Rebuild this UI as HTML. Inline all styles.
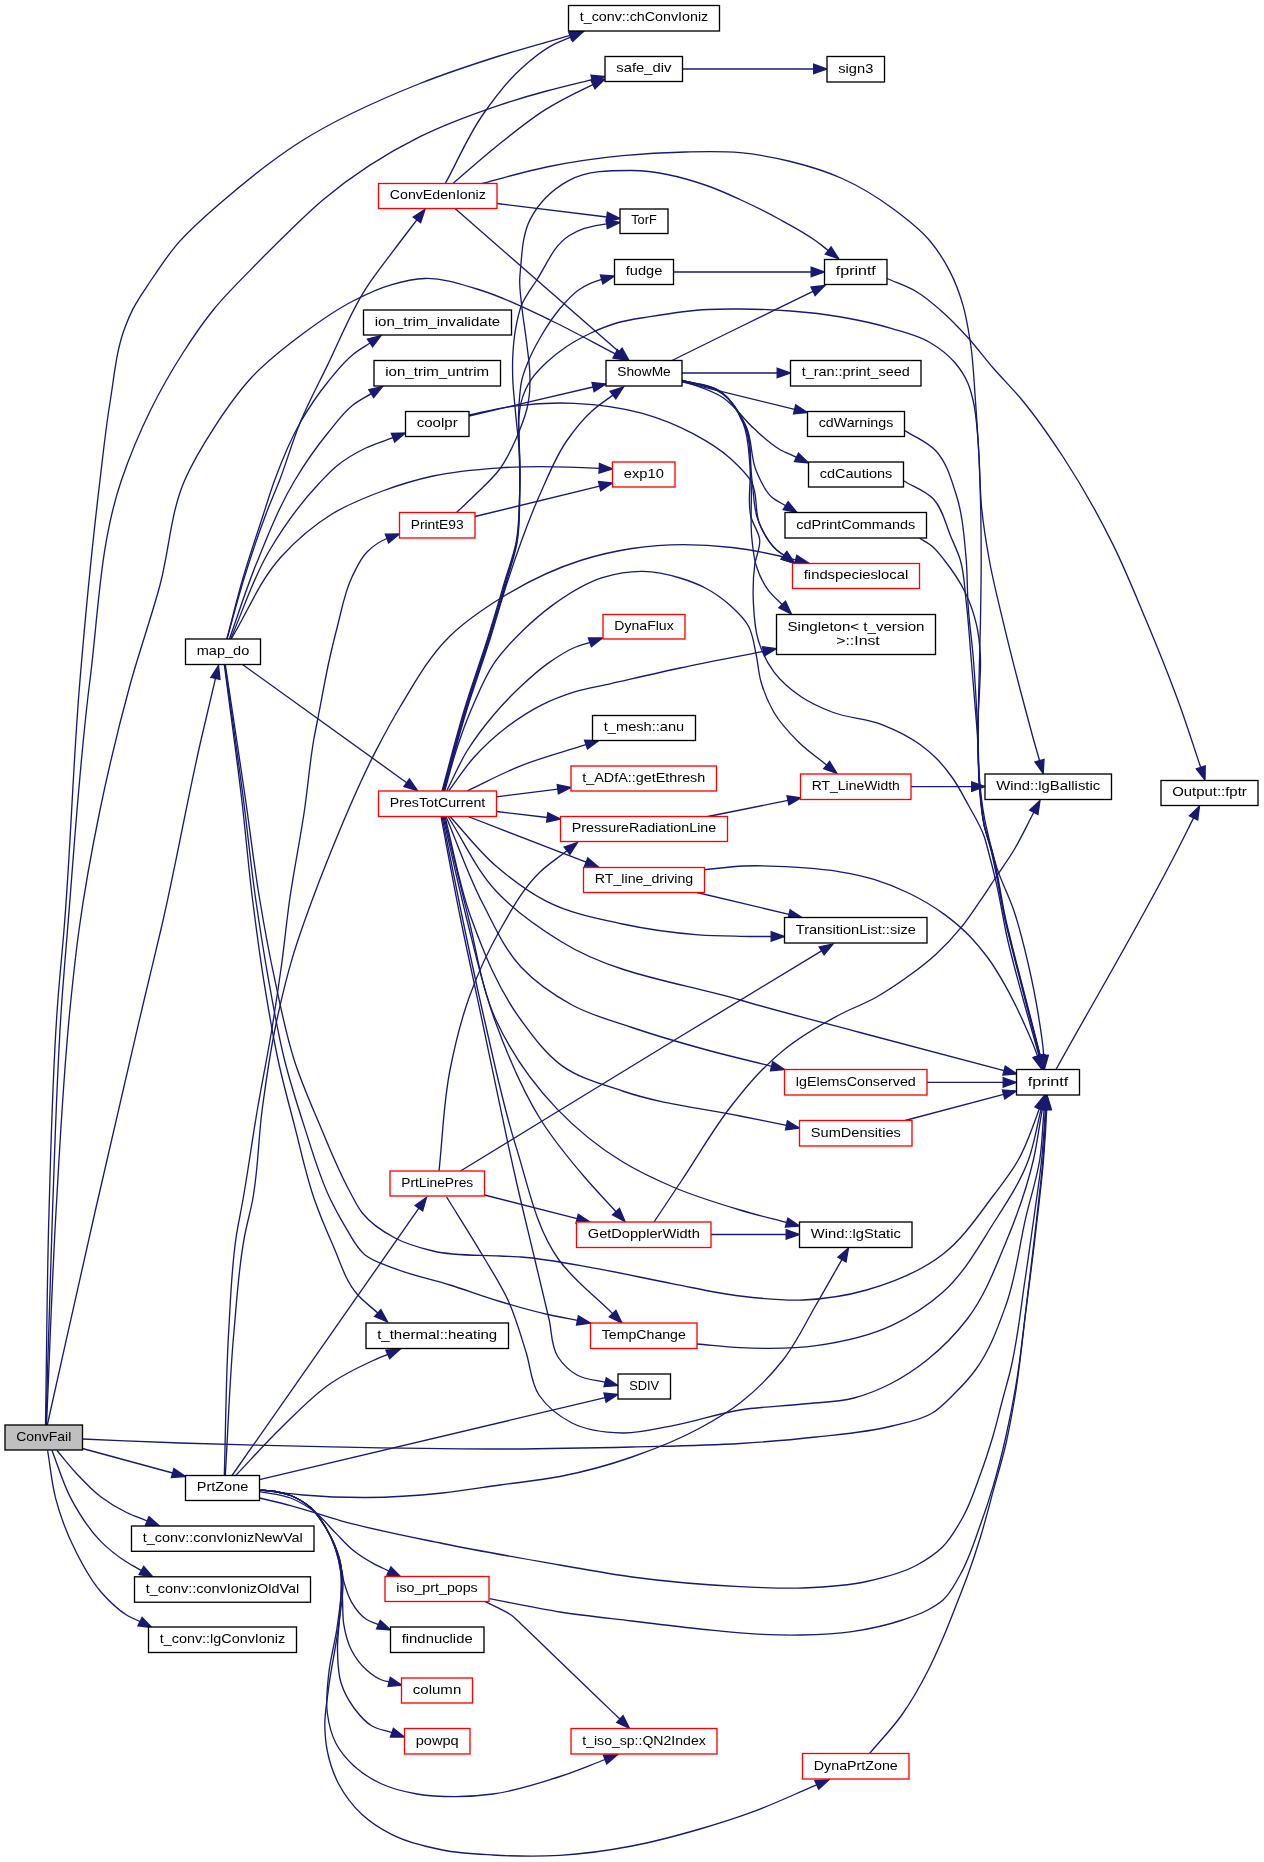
<!DOCTYPE html>
<html><head><meta charset="utf-8"><title>ConvFail call graph</title>
<style>html,body{margin:0;padding:0;background:#fff}svg{display:block;will-change:transform}text{font-family:"Liberation Sans",sans-serif;font-size:13.4px;fill:#000;text-anchor:middle}.e{fill:none;stroke:#191970;stroke-width:1.33}.a{fill:#191970;stroke:#191970;stroke-width:1.33}.n{stroke:#000;stroke-width:1.33}.r{stroke:#f00;stroke-width:1.33}</style></head>
<body><svg width="1264" height="1862" viewBox="0 0 1264 1862">
<rect width="1264" height="1862" fill="#fff"/>
<path class="e" d="M45.5,1425C46.7,1354 46.9,1283 49,1212C51.1,1141.3 52.5,1070.5 57.9,1000C59.7,976.6 62.1,953.3 64,930C70.8,846.8 73,763.2 80,680C85.6,613.2 92,546.5 100,480C103.1,454.1 105.8,428.2 110,402.5C114.2,377 116,350.7 125.3,326.6C127.6,320.6 130.1,314.6 133,308.9C137.9,299.1 144.5,290.1 150.6,281C158.7,268.9 166.7,256.7 176,245.6C190.2,228.7 207.3,214.5 224,200C248.1,179.1 273.2,159.2 300,142C337.5,118 378.7,100 420,83.5C444.9,73.6 470.4,65.2 496,57C520.5,49.2 545.5,42.6 570.2,35.4"/><polygon class="a" points="571.5,39.9 583,31.7 568.9,30.9"/>
<path class="e" d="M46,1425C48.2,1354 49.8,1283 52.5,1212C55.1,1141.3 56.9,1070.6 61.9,1000C63.6,976.7 65.6,953.3 67.5,930C74.4,846.6 79.4,763 90,680C98.5,613.1 99.7,543.9 121.5,480C129.7,456.1 139.4,432.7 150.6,410C160.4,390.1 171.5,370.7 183.5,352C193,337.2 202.9,322.6 214,309C225.7,294.6 239.1,281.7 252,268.4C264.5,255.5 277.1,242.8 290,230.4C300.8,220.1 311.4,209.6 322.8,200C352.4,175.1 385.4,153.9 420,136.7C444.4,124.5 470.2,115.1 496,106.3C512.7,100.6 529.6,95.6 546.6,91C561.7,86.9 576.9,83.5 592.1,79.7"/><polygon class="a" points="593.2,84.2 605,76.5 591,75.2"/>
<path class="e" d="M46.5,1425C49.7,1354 51.9,1283 56,1212C60.1,1141.3 63.5,1070.5 70.9,1000C73.3,976.6 75.8,953.3 79,930C84.5,889.8 91.8,849.8 100,810C108.7,768 118.7,726.3 130,685C139.2,651.4 151,618.6 160,585C169.3,550.3 170.4,513 184.8,480C192.8,461.7 203.2,444.5 214,427.8C225.5,410 237.6,392.5 252,377C267.1,360.8 284.8,347.2 302.5,334C318.6,322 335.1,310.2 353,301C365.2,294.7 377.8,288.6 391,284.8C402.1,281.6 413.5,278.9 425,278.5C443.7,277.8 462.1,284.6 480,290C504.3,297.3 527.1,309.1 550,320C572.1,330.5 593.5,342.6 615.2,353.9"/><polygon class="a" points="613,358 627,360 617.4,349.7"/>
<path class="e" d="M47.3,1425C63.2,1354 78.8,1282.9 95,1212C111.1,1141.3 127.4,1070.6 144.1,1000C150,975 156.2,950 162,925C176.2,863.6 186.9,801.4 201,740C205.7,719.5 210.6,699 215.5,678.4"/><polygon class="a" points="220,679.5 218.5,665.5 210.9,677.4"/>
<path class="e" d="M82.5,1439C115,1440.3 147.5,1441.9 180,1443C226.7,1444.6 273.3,1445.7 320,1446.7C380,1447.9 440,1449.2 500,1449C544,1448.9 588,1448.1 632,1447C668,1446.1 704.1,1445.8 740,1443.5C765.4,1441.9 790.7,1439.9 816,1437C841.4,1434.1 867.2,1432.4 892,1426C905.7,1422.5 920.4,1420.4 932.4,1413C941,1407.7 947.9,1400.1 955,1393C962.3,1385.8 969.3,1378.2 975.4,1370C989.7,1350.8 997.9,1327.5 1006,1305C1016.2,1276.6 1019.1,1246 1026,1216.6C1030.5,1197.7 1036.6,1179.2 1039.7,1160C1042.4,1143.2 1042.4,1126.1 1044.2,1109.2"/><polygon class="a" points="1048.9,1109.7 1045.7,1096 1039.6,1108.7"/>
<path class="e" d="M82.5,1448.5 L172.7,1473"/><polygon class="a" points="171.4,1477.5 185.5,1476.5 173.9,1468.5"/>
<path class="e" d="M57,1450.5C63.3,1458 69.3,1465.8 76,1473C83.9,1481.5 91.8,1490 101,1497C109,1503 117.6,1508.1 126.6,1512.5C133.3,1515.8 140.3,1518.1 147.2,1521"/><polygon class="a" points="145.4,1525.3 159.5,1526 149,1516.6"/>
<path class="e" d="M52,1450.5C58.3,1466.5 62.9,1483.4 71,1498.6C79.3,1514 88.6,1529.3 101,1541.6C108.7,1549.3 117.4,1556.1 126.6,1562C131.4,1565.1 136.5,1567.6 141.4,1570.4"/><polygon class="a" points="139.1,1574.5 153,1577 143.7,1566.4"/>
<path class="e" d="M47.6,1450.5C50.3,1466.5 51.6,1482.9 55.7,1498.6C60.5,1517 67.4,1534.9 76,1551.8C83.1,1565.9 90.6,1580.1 101,1592C108.6,1600.6 116.8,1609.1 126.6,1615C130.9,1617.6 135.6,1619.4 140.1,1621.6"/><polygon class="a" points="138,1625.8 152,1627.5 142.1,1617.4"/>
<path class="e" d="M227,639C232.8,618.3 238.1,597.5 244.5,577C251.1,555.8 258.1,534.7 266,514C270.3,502.6 275.3,491.4 279.7,480C286.9,461.2 292.3,441.6 300,423C308.2,403.1 318.4,384 327.8,364.6C340.2,339.1 350.5,312.4 365.8,288.6C374.3,275.4 384.1,263.2 393.5,250.6C401.2,240.3 409.1,230.1 416.9,219.9"/><polygon class="a" points="420.6,222.7 425,209.3 413.2,217"/>
<path class="e" d="M226.8,639C232.3,618.3 237.3,597.5 243.3,577C249.5,555.8 256.7,535 263.5,514C267.2,502.7 270.6,491.2 274.7,480C281.9,460.5 289.7,441.1 300,423C308.2,408.6 317.4,394.9 327.8,382C335.6,372.3 343.3,362.2 353,354.4C358.3,350.1 364.3,346.8 370,343"/><polygon class="a" points="372.6,346.9 381,335.6 367.4,339.1"/>
<path class="e" d="M229.4,639C238.3,614.2 246.1,589 256,564.6C267.6,535.8 279,506.6 295,480C304.9,463.6 315.7,447.8 327.8,433C335.7,423.3 343.1,412.7 353,405C358.7,400.6 365.2,397.4 371.2,393.6"/><polygon class="a" points="373.7,397.5 382.5,386.5 368.8,389.6"/>
<path class="e" d="M230.6,639C243.3,610 252.6,579.3 268.6,552C282.9,527.5 299.6,504.1 319,483.5C324.7,477.5 330.3,471.2 336.7,466C345.5,458.8 355.5,453 365.8,448C374.5,443.8 384,441.1 393.1,437.7"/><polygon class="a" points="394.7,442.1 405.5,433 391.4,433.3"/>
<path class="e" d="M231.2,639C247.8,611.7 259.5,580.7 281,557C296,540.5 313.1,525.6 332,514C347.8,504.3 365.2,497.5 382.5,491C399,484.9 415.8,479.8 433,476C455,471.2 477.6,469.4 500,467.8C533,465.5 566.2,466.6 599.2,468.3"/><polygon class="a" points="599,473 612.5,469 599.5,463.6"/>
<path class="e" d="M242.5,664.5 L406.7,782.7"/><polygon class="a" points="404,786.5 417.5,790.5 409.4,778.9"/>
<path class="e" d="M224.3,664.5C230.1,709.7 236.5,754.8 241.8,800C245.7,833.3 248.4,866.7 252.6,900C256,926.9 259.5,953.8 263.8,980.6C268.1,1007.5 272.5,1034.4 278.3,1061C283,1082.7 288.9,1104.1 294.5,1125.6C301,1150.5 306.1,1175.8 314.6,1200C319.7,1214.6 325.7,1228.9 332,1243C339.7,1260.3 344.7,1279.6 357,1294C363.1,1301.1 370.9,1306.7 377.8,1313"/><polygon class="a" points="374.6,1316.5 387.6,1322 380.9,1309.6"/>
<path class="e" d="M224.8,664.5C231,709.7 237.7,754.8 243.5,800C247.8,833.3 251,866.8 255.8,900C259.7,926.9 263.9,953.8 268.7,980.6C273.5,1007.5 278.1,1034.5 284.8,1061C290.3,1082.8 297.1,1104.2 304,1125.6C312.2,1150.7 319.1,1176.3 330.7,1200C335,1208.7 339.6,1217.3 344.6,1225.6C350.7,1235.7 355.7,1247.2 364.8,1254.7C373.4,1261.7 384.7,1264.5 395,1268.6C412.8,1275.7 431.8,1279.3 450,1285C466.7,1290.3 483.2,1296.5 500,1301.5C516.5,1306.5 533.1,1311.2 550,1315C559.1,1317 568.3,1318.6 577.5,1320.4"/><polygon class="a" points="576.5,1325 590.5,1323 578.4,1315.8"/>
<path class="e" d="M225.3,664.5C232.1,709.7 239,754.8 245.6,800C250.4,833.3 254.2,866.8 259.8,900C264.3,927 269.2,953.9 275,980.6C280.8,1007.6 286,1034.8 294.5,1061C301.6,1083 311,1104.3 320,1125.6C329.4,1148 338.3,1170.7 350,1192C353.9,1199.1 357.2,1206.7 362.3,1213C370.9,1223.7 382.9,1231.6 395,1238C406.8,1244.3 420,1247.9 433,1251C454.8,1256.2 477.6,1254.8 500,1256C507,1256.4 514,1256.5 521,1257C546.6,1258.8 571.8,1264.2 597,1268.6C622.4,1273.1 647.6,1279 673,1283.8C695.3,1288 717.5,1293.3 740,1296C760.9,1298.5 782,1301 803,1300C824.4,1299 846,1295.9 866.6,1290C893.5,1282.3 920.4,1271.6 942.5,1254.5C962.9,1238.8 977.5,1216.5 993,1196C1001.8,1184.3 1011,1172.8 1018.2,1160C1027.3,1143.8 1033,1125.9 1039.4,1108.5"/><polygon class="a" points="1043.8,1110.1 1044,1096 1035,1106.9"/>
<path class="e" d="M224.3,1475.5C225.8,1427.3 225.8,1379.1 228.7,1331C230.6,1299.3 231.5,1267.4 236.3,1236C238.2,1223.9 240.8,1212 242.9,1200C248.2,1169.9 252.3,1139.6 257.4,1109.5C262,1082.6 267.5,1055.9 271.9,1029C275.4,1007.5 278.6,986 281.6,964.5C284.5,943 286.6,921.5 289.6,900C293.9,869.9 300.1,840.1 304.5,810C307.9,786.7 309.7,763.2 313.7,740C315.5,730 317.6,720 319.5,710C322.7,693.3 325.6,676.6 329.3,660C331.7,649.3 334.2,638.6 337,628C341.5,610.9 344.3,593 352,577C356.2,568.3 360.2,558.9 367,552C372.7,546.3 379.5,541.3 387,538.5"/><polygon class="a" points="388.6,542.9 399.5,534 385.4,534.2"/>
<path class="e" d="M225.3,1475.5C228.2,1427.3 229.6,1379.1 234,1331C236.9,1299.3 238.6,1267.3 244.6,1236C246.9,1223.9 250.3,1212.1 252.6,1200C258.2,1170.2 258.2,1139.6 262.2,1109.5C265.8,1082.6 269.6,1055.6 275,1029C280,1004.6 285.7,980.3 292.8,956.4C298.5,937.4 305.3,918.7 312.2,900C316.8,887.4 321.6,874.9 326.6,862.5C342,823.9 357.8,785.4 377,748.6C384.3,734.6 391.8,720.6 400,707C415,682.2 429.3,656.2 450,636C465.2,621.2 483,609.2 501,598C526.3,582.2 553.5,568.9 582,560C598.3,554.9 615.1,551.1 632,548.5C664.9,543.4 698.9,543.8 732,547.5C753.5,549.9 774.7,554.6 795.7,559.8"/><polygon class="a" points="794.6,564.3 808.6,563 796.8,555.3"/>
<path class="e" d="M232,1475.5 L418.9,1208.2"/><polygon class="a" points="422.7,1210.9 426.5,1197.3 415.1,1205.5"/>
<path class="e" d="M235.7,1475.5C250.8,1459.7 265.3,1443.2 281,1428C297.4,1412.1 313,1395.1 332,1382.5C344,1374.6 356.9,1368 370,1362C375.8,1359.3 381.8,1356.9 387.8,1354.4"/><polygon class="a" points="389.6,1358.7 400,1349.2 385.9,1350.1"/>
<path class="e" d="M259.5,1479.7 L605.1,1397.6"/><polygon class="a" points="606.1,1402.1 618,1394.5 604,1393"/>
<path class="e" d="M259.5,1490C274,1491.7 288.5,1493.8 303,1495C324.1,1496.8 345.4,1497.6 366.6,1497.5C391.9,1497.4 417.3,1495.6 442.5,1493C461.7,1491 480.8,1487.7 500,1485C520,1482.2 540.2,1480.4 560,1476.5C584.4,1471.7 608.5,1465.2 632,1457C655.3,1448.9 678.4,1439.8 700,1428C713.8,1420.5 727.6,1412.6 740,1403C756,1390.6 770.5,1375.9 783,1360C796.2,1343.2 805.2,1323.5 816,1305C824.8,1289.9 833.3,1274.7 841.9,1259.6"/><polygon class="a" points="846,1261.9 848.5,1248 837.9,1257.2"/>
<path class="e" d="M259.5,1498C269.9,1500.5 280.3,1502.9 290.6,1505.6C307.6,1510.1 324.1,1516.1 341,1520.8C374.4,1530 408.5,1536.5 442.5,1543.5C481.5,1551.5 520.8,1558.2 560,1565C584,1569.1 607.9,1573.7 632,1577C667.8,1581.8 703.9,1584.9 740,1586.6C761,1587.6 782,1588.8 803,1588C824.3,1587.2 845.8,1586.1 866.6,1581.5C883.9,1577.7 901.5,1573.5 917,1565C926.1,1560 935.1,1554.3 942.5,1547C951.1,1538.5 957.1,1527.6 963,1517C970.5,1503.5 975.2,1488.5 980.5,1474C985.1,1461.5 989.2,1448.8 993,1436C996.7,1423.4 999.6,1410.7 1003,1398C1005.5,1388.7 1008.2,1379.4 1010.5,1370C1017.6,1340.5 1020.5,1310 1025,1280C1028.5,1256.7 1031.8,1233.4 1035,1210C1037.3,1193.3 1039.9,1176.7 1041.6,1160C1043.3,1143.1 1044.3,1126.2 1045.4,1109.3"/><polygon class="a" points="1050.1,1109.6 1046.3,1096 1040.8,1109"/>
<path class="e" d="M259.5,1491.6C269.9,1493.7 280.7,1494.1 290.6,1498C299.8,1501.6 308.3,1506.9 316,1513C323.5,1518.9 329.3,1526.7 336,1533.4C341.9,1539.3 347.4,1545.8 354,1551C360.2,1555.9 367.1,1560 374,1563.8C378.8,1566.4 383.9,1568.6 388.8,1571"/><polygon class="a" points="386.8,1575.2 400.8,1576.8 390.9,1566.8"/>
<path class="e" d="M259.5,1490C264.7,1490.5 269.9,1490.6 275,1491.5C280.3,1492.4 285.6,1493.6 290.6,1495.5C298,1498.4 305.1,1502.7 311,1508C317.2,1513.6 321.7,1520.9 326,1528C331.3,1536.8 335.7,1546.2 338.7,1556C341.3,1564.3 341.4,1573.2 343.8,1581.5C345.8,1588.4 347.8,1595.6 351.4,1601.8C355.3,1608.5 360.1,1615.3 366.6,1619.5C370.2,1621.8 374.5,1622.9 378.4,1624.7"/><polygon class="a" points="376.5,1628.9 390.6,1630 380.3,1620.4"/>
<path class="e" d="M259.5,1490C264.7,1490.5 269.9,1490.6 275,1491.5C280.3,1492.4 285.6,1493.6 290.6,1495.5C298,1498.4 305.1,1502.7 311,1508C317.2,1513.6 321.7,1520.9 326,1528C332.2,1538.2 337.2,1549.4 340,1561C343,1573.3 341.8,1586.3 342.5,1599C343,1607.5 342.4,1616.2 343.8,1624.6C345.3,1633.3 347.4,1642.1 351.4,1650C355.2,1657.4 360.3,1664.5 366.6,1670C371.1,1674 376.1,1677.9 381.8,1680C384.2,1680.9 386.7,1681.3 389.1,1681.9"/><polygon class="a" points="388,1686.4 402,1685.3 390.3,1677.4"/>
<path class="e" d="M259.5,1490C264.7,1490.5 269.9,1490.6 275,1491.5C280.3,1492.4 285.6,1493.6 290.6,1495.5C298,1498.4 305.1,1502.7 311,1508C317.2,1513.6 321.8,1520.8 326,1528C332.9,1539.6 337.5,1552.7 340,1566C342.9,1581.1 340.6,1596.7 340,1612C339.5,1624.7 337.2,1637.3 337.5,1650C337.8,1661 337.7,1672.3 341,1682.8C343.8,1691.8 348.4,1700.4 354,1708C359,1714.7 364.4,1721.5 371.6,1725.8C377.7,1729.5 385.1,1730.4 391.9,1732.7"/><polygon class="a" points="390.4,1737.1 404.5,1737 393.4,1728.3"/>
<path class="e" d="M259.5,1490C264.7,1490.5 269.9,1490.6 275,1491.5C280.3,1492.4 285.6,1493.6 290.6,1495.5C298,1498.4 305.1,1502.7 311,1508C317.2,1513.6 321.8,1520.8 326,1528C334.2,1541.9 338.9,1558 341,1574C343.2,1590.8 339.6,1607.8 337.5,1624.6C335.4,1641.5 330.2,1658 328.6,1675C327.4,1687.6 325.6,1700.4 327.3,1713C328.7,1723.5 331.1,1734.2 336,1743.5C340.5,1752 347,1759.5 354,1766C362.1,1773.5 371.8,1779.4 381.8,1784C392.9,1789.1 405,1791.9 417,1794C429.5,1796.2 442.3,1796.7 455,1796.7C467.7,1796.7 480.4,1795.7 493,1794C515.9,1790.9 538.1,1783.7 560,1776.5C575.2,1771.5 590,1765.2 605.1,1759.5"/><polygon class="a" points="606.7,1763.9 617.5,1754.8 603.4,1755.1"/>
<path class="e" d="M259.5,1490C264.7,1490.5 269.9,1490.6 275,1491.5C280.3,1492.4 285.6,1493.6 290.6,1495.5C298,1498.4 305.1,1502.7 311,1508C317.2,1513.6 321.7,1520.9 326,1528C334.4,1542 340.2,1557.9 342.5,1574C344.8,1590.8 340.6,1607.8 338.7,1624.6C336.3,1645.9 331.2,1666.8 328.6,1688C327.1,1700.6 324.6,1713.1 324.8,1725.8C325,1734.2 325.6,1742.7 327.3,1751C329.6,1762.4 333.3,1773.7 338.7,1784C344.6,1795.1 352.4,1805.4 361.5,1814C370.4,1822.4 381.1,1829.1 392,1834.7C407.7,1842.7 425.2,1846.6 442.5,1850C459.1,1853.3 476.1,1854 493,1855C515.3,1856.3 537.7,1856.7 560,1855.4C584.2,1854 608.2,1850.5 632,1846C655,1841.6 677.6,1835.5 700,1829C717,1824.1 733.9,1818.8 750.6,1812.7C773.1,1804.5 794.7,1794.1 816.7,1784.9"/><polygon class="a" points="818.6,1789.2 829,1779.7 814.9,1780.6"/>
<path class="e" d="M485.2,1601.6C490.1,1604 495.2,1606.2 500,1608.8C504,1610.9 508.2,1612.8 511.8,1615.5C515.2,1618 517.9,1621.2 521,1624C534.2,1636.3 547,1649 560,1661.5C573.3,1674.3 586.7,1687.2 600,1700C606.6,1706.4 613.3,1712.7 619.9,1719.1"/><polygon class="a" points="616.7,1722.5 629.5,1728.3 623.1,1715.7"/>
<path class="e" d="M489.4,1598.7C512.9,1603.1 536.3,1608.3 560,1612C583.9,1615.7 608,1618.1 632,1621C654.7,1623.7 677.3,1626.7 700,1629C716.8,1630.7 733.7,1632.7 750.6,1633.7C767.4,1634.7 784.2,1635.3 801,1635C818,1634.7 835.1,1634.1 852,1631.6C869.1,1629.1 886.1,1625.5 902.5,1620C911.1,1617.1 919.8,1614.3 927.8,1610C933.1,1607.1 938.5,1604 943,1600C950.5,1593.3 955,1583.7 960,1575C969.1,1559.3 974.3,1541.6 980.5,1524.5C985,1512 989.2,1499.3 993,1486.6C998,1469.9 1002.2,1453 1006,1436C1009.8,1419.1 1013.1,1402.1 1016,1385C1020.8,1356.8 1023.5,1328.4 1027,1300C1030.3,1273.3 1033.5,1246.7 1036.5,1220C1038.7,1200 1041.3,1180 1042.9,1160C1044.3,1143.1 1045,1126.2 1046,1109.3"/><polygon class="a" points="1050.7,1109.6 1046.8,1096 1041.4,1109"/>
<path class="e" d="M439,1171C442.7,1137.3 443.4,1103.2 450,1070C455,1044.6 461.1,1019.3 470,995C478.2,972.6 488.2,950.7 500,930C511.6,909.6 523.1,888.3 540,872C548.3,864.1 558,857.8 567,850.7"/><polygon class="a" points="569.9,854.4 577.5,842.5 564.2,847.1"/>
<path class="e" d="M460.5,1171C533.7,1126.3 606.7,1081.4 680,1036.8C727.2,1008.1 774.4,979.5 821.6,950.9"/><polygon class="a" points="824.1,954.9 833,944 819.2,946.9"/>
<path class="e" d="M484.5,1195 L577.1,1218.7"/><polygon class="a" points="576,1223.2 590,1222 578.3,1214.2"/>
<path class="e" d="M446.6,1197C458.7,1216.7 471.3,1236.1 483,1256C491.8,1271 501.5,1285.6 508.6,1301.5C515.9,1317.7 520.6,1335 526,1352C530.6,1366.3 530.7,1382.5 539,1395C547,1407 559.2,1416.4 572,1423C587.3,1430.8 605.3,1432.6 622.5,1433C639.5,1433.4 656.3,1428.7 673,1425.6C695.6,1421.5 717.4,1413.6 740,1410C760.8,1406.7 782,1406.3 803,1404C820,1402.2 837.5,1402.4 854,1398C867.2,1394.5 879.9,1389.3 892,1383C904.4,1376.6 916.1,1368.7 927,1360C942.3,1347.8 956.2,1333.6 968,1318C985.1,1295.4 995.1,1268.2 1006,1242C1017.1,1215.4 1026.8,1188.1 1033.4,1160C1037.3,1143.2 1039.1,1126 1042.4,1109"/><polygon class="a" points="1047,1110 1045,1096 1037.8,1108.1"/>
<path class="e" d="M711,1234.5 L786.2,1234.5"/><polygon class="a" points="786.2,1239.2 799.5,1234.5 786.2,1229.8"/>
<path class="e" d="M654,1222C663.3,1208 672.7,1194 682,1180C698.7,1155 713.4,1128.6 732,1105C740.9,1093.7 749.9,1082.3 760,1072C767.5,1064.3 775.4,1056.8 783.8,1050C800.9,1036 820.4,1024.9 840,1014.5C851.3,1008.5 863.6,1004.2 874.8,998C886.9,991.3 898.4,983.5 909.6,975.3C918.6,968.7 927.5,961.9 935.7,954.4C945.1,945.8 953.8,936.5 961.8,926.6C968.1,918.8 973.6,910.4 979.3,902.2C985.3,893.6 990.9,884.7 996.7,876C1002.5,867.3 1008.6,858.9 1014,850C1021.3,837.8 1027.2,824.8 1033.8,812.3"/><polygon class="a" points="1037.9,814.4 1040,800.5 1029.7,810.1"/>
<path class="e" d="M697,1344C711.3,1345.2 725.6,1347 740,1347.7C765.3,1348.8 790.9,1349.3 816,1345.7C842,1342 868.3,1336.6 892,1325.4C910.2,1316.8 927.5,1305.8 942.5,1292.5C963.7,1273.7 977.8,1248 993,1224C1006.1,1203.4 1020,1182.9 1028.4,1160C1034.5,1143.5 1036.8,1125.9 1041.2,1108.9"/><polygon class="a" points="1045.7,1110 1044.5,1096 1036.7,1107.7"/>
<path class="e" d="M869.6,1753.5C880.6,1740.3 892.7,1728 902.5,1714C912.1,1700.4 920.2,1685.8 927.8,1671C933.3,1660.2 938.2,1649.1 943,1638C948.4,1625.5 953.2,1612.7 958.2,1600C961.4,1591.7 964.7,1583.4 967.8,1575C972.4,1562.4 976.6,1549.8 980.5,1537C985.1,1522 988.9,1506.7 993,1491.6C997.4,1475.6 1002.3,1459.7 1006,1443.5C1009.4,1428.4 1012.1,1413.2 1014.7,1398C1019.6,1368.8 1022.3,1339.3 1026,1310C1029.6,1281.7 1033.3,1253.4 1036.5,1225C1039,1203.3 1041.7,1181.7 1043.5,1160C1044.9,1143.1 1046,1126.2 1046.7,1109.3"/><polygon class="a" points="1051.4,1109.5 1047.3,1096 1042,1109.1"/>
<path class="e" d="M445.3,183.5C458,160.3 468.1,135.6 483.3,114C494.7,97.8 506.6,81.7 521.3,68.4C530.7,59.9 540.5,51.6 551.6,45.6C557.8,42.2 564.4,39.9 570.8,37.1"/><polygon class="a" points="572.7,41.4 583,31.7 568.9,32.8"/>
<path class="e" d="M453,183.5C467.3,171.3 481.3,158.6 496,146.8C512.4,133.6 528.7,120 546.6,108.9C558.8,101.4 571.7,94.8 584.6,88.6C587.4,87.3 590.2,86 593,84.7"/><polygon class="a" points="595,88.9 605,79 591,80.4"/>
<path class="e" d="M497,203.5 L606.8,217"/><polygon class="a" points="606.2,221.6 620,218.6 607.4,212.3"/>
<path class="e" d="M455,208.5 L619,351.8"/><polygon class="a" points="615.9,355.3 629,360.5 622.1,348.2"/>
<path class="e" d="M482,183.5C503.5,178 524.8,171.5 546.6,167C571.7,161.9 597,158.2 622.5,155.7C643.5,153.6 664.7,152.4 685.8,152C703.9,151.6 722,151 740,152.7C757,154.3 774,157.4 790.6,161.5C807.8,165.8 824.8,170.8 841,178C859,186 876.1,196.4 892,208C905.5,217.9 919.3,228.1 930,241C937.8,250.4 944.5,260.8 950,271.6C955.4,282.1 959.5,293.3 962.8,304.6C966.5,317 968.4,329.8 970.4,342.5C973.3,361.5 974,380.8 975.4,400C976.8,418.7 977.9,437.3 979,456C980,472.9 979.9,489.8 981.5,506.6C983.2,524.5 986.1,542.3 989.3,560C993.2,581.7 998.7,603 1003.8,624.4C1008.9,646 1014.4,667.5 1020,689C1024.2,705 1028.4,721 1032.8,737C1035,744.9 1037.3,752.8 1039.6,760.7"/><polygon class="a" points="1035.1,762 1043.2,773.5 1044,759.4"/>
<path class="e" d="M443.2,791C450.7,764.2 457.7,737.3 465.8,710.7C473.4,685.6 482.4,661 490.2,636C496,617.4 501.6,598.7 506.9,580C510.4,567.5 514.9,555.3 517.1,542.5C520,525.9 519.4,508.9 519.7,492C520.1,473.7 519.1,455.3 519,437C519,430.7 518.5,424.3 519,418C519.3,413.2 519.7,408.4 520.8,403.7C521.9,398.8 523.5,394 525.6,389.5C527.3,385.7 529.5,382.1 531.8,378.7C536,372.5 541.5,367.1 547,362C552.9,356.5 559.3,351.5 566,347C573.9,341.6 582.4,337.1 591,333C599.3,329.1 607.8,325.6 616.6,323C627.5,319.8 638.8,318.5 650,316.7C669.2,313.5 688.5,310.5 708,309.5C718.7,308.9 729.3,308.9 740,309C756.9,309.1 773.8,309.7 790.6,311C807.5,312.3 824.3,314.1 841,317C858.2,320 875.3,323.5 892,328.6C904.9,332.5 918.4,335.6 930,342.5C939.2,348 948.1,354.6 955,362.8C960.2,368.9 964.6,375.7 967.8,383C970.2,388.4 971.6,394.2 973,400C976.2,413 976.9,426.6 978,440C978.8,450 979.1,460 979.5,470C980.8,500 981.2,530 981.2,560C981.2,581.5 980.8,602.9 980.4,624.4C980,645.9 979.2,667.5 978.8,689C978.6,699.7 978.3,710.3 978.3,721C978.2,742.5 977.9,764.1 979.6,785.5C980.7,799 981.5,812.6 984.4,825.8C986.2,834 989.2,841.9 991.4,850C997.5,872.9 1000.2,896.5 1005.4,919.6C1010.7,942.9 1016.9,965.9 1022.8,989C1028.5,1011.3 1034.3,1033.6 1040.1,1055.9"/><polygon class="a" points="1035.6,1057.1 1043.5,1068.8 1044.7,1054.8"/>
<path class="e" d="M442,791C449.3,764.2 456,737.3 464,710.7C471.5,685.6 480.6,661 488.4,636C494.2,617.4 499.6,598.7 505.1,580C508.8,567.5 513.6,555.3 516.1,542.5C519.3,525.9 519.2,508.9 519.7,492C519.9,484.7 520,477.3 519.9,470C519.8,462.2 519.6,454.3 519,446.5C518.5,440.1 517.6,433.8 517,427.5C516.2,419.6 515.4,411.6 514.7,403.7C514,395.8 513.1,387.9 512.8,380C512.5,372 512.4,364 512.8,356C513.2,347.5 513.9,339 515.3,330.6C516.8,321.9 518.3,313.1 521.6,305C525.3,296 531.5,288.2 536.8,280C546.6,264.8 553.4,245.9 568.6,236C579.8,228.7 593.5,225.3 606.8,223.9"/><polygon class="a" points="607.3,228.6 620,222.5 606.3,219.3"/>
<path class="e" d="M442.6,791C450,764.2 456.9,737.3 464.9,710.7C472.5,685.6 481.5,661 489.3,636C495.1,617.4 500.6,598.7 506,580C509.6,567.5 514.2,555.3 516.6,542.5C519.7,525.9 519.2,508.9 519.7,492C519.9,484.7 520,477.3 520,470C520,459 519.3,448 519,437C518.8,430.7 518.4,424.3 518.5,418C518.6,411.7 518.9,405.3 519.4,399C520,392.6 520.4,386.2 521.8,380C523.2,373.8 525.6,367.9 528,362C531.5,353.4 535.9,345.1 540.6,337C546.3,327.2 552.3,317.6 559.6,309C565.4,302.2 571.2,295.1 578.6,290C585.6,285.2 593.5,281.6 601.7,279.4"/><polygon class="a" points="602.9,284 614.5,276 600.4,274.9"/>
<path class="e" d="M443.8,791C451.4,764.2 458.4,737.3 466.5,710.7C474.2,685.6 483.2,661 491,636C496.8,617.4 501.9,598.5 508,580C517.8,550.3 528.1,520.5 541,492C548.8,474.7 555.8,456.6 566.6,441C574.1,430.2 582.3,419.8 592,411C598.5,405.1 605.9,400.4 612.9,395.1"/><polygon class="a" points="615.8,398.8 623.5,387 610.1,391.3"/>
<path class="e" d="M444.7,791C448.5,777.7 451.7,764.2 456,751C461.1,735.1 466.9,719.3 473.6,704C479.7,690.2 485.4,676.1 493.8,663.6C502.1,651.2 512.7,640.4 523.4,630C532.4,621.3 541.9,613 552,605.6C567.6,594.3 584.1,583.4 602.5,577.7C615.6,573.7 629.3,571.1 643,571.4C655.5,571.6 668,574.4 680,578C688.7,580.6 697.3,583.8 705.3,588C714.4,592.8 723,598.9 730.6,605.8C737.2,611.8 744.1,618.1 748.4,626C753.1,634.5 753.9,644.6 756,654C758.1,663.2 758.4,672.8 761,681.8C764,692.3 768.2,702.6 773.7,712C780.4,723.4 789.6,733.2 799,742.5C807.5,750.8 817.5,757.6 826.7,765.1"/><polygon class="a" points="823.7,768.7 837,773.5 829.6,761.5"/>
<path class="e" d="M446.7,791C453.5,777.7 459.2,763.7 467,751C474.9,738.2 484.1,726.2 493.8,714.7C502.2,704.8 511.2,695.4 520.7,686.5C529.3,678.4 538,670.4 547.6,663.6C556.1,657.6 564.9,651.6 574.5,647.5C579.5,645.4 584.8,644 589.9,642.3"/><polygon class="a" points="591.4,646.7 602.5,638 588.4,637.9"/>
<path class="e" d="M448.7,791C457,779.9 464.4,768.1 473.6,757.8C483.8,746.4 495.1,736 507.2,726.8C517.8,718.7 529,711.3 540.9,705.3C551.7,699.9 563,695.5 574.5,691.9C586.1,688.3 598.2,686.5 610,683.8C633.3,678.5 656.6,673 680,668C707.7,662.1 735.6,656.9 763.5,651.3"/><polygon class="a" points="764.4,655.9 776.5,648.7 762.5,646.7"/>
<path class="e" d="M467,791C484.9,782.6 502.3,773.1 520.7,765.8C542,757.3 564.3,751.7 586,744.6"/><polygon class="a" points="587.5,749 598.7,740.5 584.6,740.2"/>
<path class="e" d="M496.5,796.8 L557.8,789.1"/><polygon class="a" points="558.4,793.8 571,787.5 557.2,784.5"/>
<path class="e" d="M496.5,811.5 L547.3,817.5"/><polygon class="a" points="546.7,822.1 560.5,819 547.8,812.8"/>
<path class="e" d="M468,816.5 L586.1,862.2"/><polygon class="a" points="584.4,866.6 598.5,867 587.8,857.8"/>
<path class="e" d="M450,816.5C465.3,833 478.9,851.3 496,866C511.6,879.4 528.2,892.1 546.6,901.4C570.1,913.4 596.7,918.4 622.5,924C647.5,929.4 673,932.9 698.5,934.8C712.3,935.8 726.2,936 740,936.3C750.4,936.5 760.8,936.5 771.2,936.5"/><polygon class="a" points="771.2,941.2 784.5,936.5 771.2,931.8"/>
<path class="e" d="M448,816.5C464,841.3 475.9,869.3 496,891C514.9,911.4 538.2,927.4 561.8,942C614.9,974.9 680,982.5 740,1000C779.8,1011.6 820,1021.8 860,1032.5C908,1045.4 956.1,1057.9 1004.1,1070.6"/><polygon class="a" points="1002.9,1075.1 1017,1074 1005.3,1066.1"/>
<path class="e" d="M446,816.5C458.3,845.7 468.4,875.9 483,904C494.3,925.7 504.3,949.1 521,967C535.5,982.5 553.4,994.8 572,1005C590.7,1015.2 611.8,1020.6 632,1027.5C656.7,1035.9 681.8,1043.1 707,1050C728.4,1055.9 750.1,1060.8 771.6,1066.3"/><polygon class="a" points="770.5,1070.8 784.5,1069.5 772.7,1061.7"/>
<path class="e" d="M445,816.5C453.5,849.9 458.9,884.2 470.6,916.6C483.6,952.7 498.3,989.1 521,1020C533.1,1036.4 545.3,1053.6 561.8,1065.6C579.6,1078.5 601.8,1083.9 622.5,1091C660.4,1104 700.8,1108 740,1116C755.5,1119.2 771,1122.2 786.5,1125.4"/><polygon class="a" points="785.5,1129.9 799.5,1128 787.4,1120.8"/>
<path class="e" d="M444,816.5C452,849.7 459.6,882.9 468,916C476.9,950.8 481,987.4 496,1020C511,1052.5 532,1082.7 556.7,1108.6C576.2,1129 598.4,1147.1 622.5,1161.8C638.5,1171.6 655.7,1179.6 673,1187C694.7,1196.3 717.4,1203.2 740,1210C755.4,1214.6 771.1,1218.4 786.7,1222.5"/><polygon class="a" points="785.4,1227.1 799.5,1226 787.9,1218"/>
<path class="e" d="M443,816.5C450.7,849.7 457.7,883 466,916C474.8,950.9 482.4,986.2 494.7,1020C507.4,1054.9 521.5,1089.7 541.5,1121C554.2,1140.8 569.2,1159.1 584.5,1177C594.6,1188.9 605.5,1200.1 616,1211.7"/><polygon class="a" points="612.6,1214.8 625,1221.5 619.5,1208.5"/>
<path class="e" d="M442,816.5C448.7,849.7 455.1,882.9 462,916C469.2,950.7 476.5,985.4 484.5,1020C494.3,1062.4 502.9,1105.1 516,1146.6C528.2,1185.2 535.4,1227.2 559,1260C573.8,1280.5 594.7,1295.7 612.6,1313.6"/><polygon class="a" points="609.3,1316.9 622,1323 615.9,1310.3"/>
<path class="e" d="M441,816.5C447.3,849.7 453.3,882.9 460,916C467,950.7 474.7,985.3 482,1020C490.9,1062.2 499.4,1104.5 508.6,1146.6C511,1157.7 513.5,1168.9 516,1180C521.7,1205.4 528,1230.7 534,1256C539,1277 544,1298 549,1319C552,1331.7 550.9,1346.1 558,1357C562.8,1364.3 569.4,1370.7 577,1375C585.4,1379.8 595.7,1379.8 605.1,1382.2"/><polygon class="a" points="604,1386.7 618,1385.5 606.3,1377.7"/>
<path class="e" d="M672,360.5C694.7,349.3 717.3,338.1 740,327C764.3,315.1 788.7,303.2 813,291.3"/><polygon class="a" points="815.1,295.5 825,285.5 811,287.1"/>
<path class="e" d="M682,373 L777.2,373"/><polygon class="a" points="777.2,377.7 790.5,373 777.2,368.3"/>
<path class="e" d="M682,381.8 L794.6,409.3"/><polygon class="a" points="793.5,413.9 807.5,412.5 795.7,404.8"/>
<path class="e" d="M682,380.5C695.8,386.3 711.1,389.6 723.5,398C735.4,406.1 743.3,419 754,428.6C762,435.8 769.7,443.5 779,449C784.6,452.3 790.7,454.5 796.5,457.3"/><polygon class="a" points="794.5,461.5 808.5,463 798.5,453.1"/>
<path class="e" d="M682,380.5C695.8,385.1 712,385.5 723.5,394.4C733.7,402.3 740.5,414.3 746,426C752.7,440.1 750.2,457.3 756.5,471.6C760.5,480.6 764.2,490.5 771.6,497C775.7,500.6 781,502.7 785.6,505.6"/><polygon class="a" points="783.2,509.6 797,512.5 788.1,501.6"/>
<path class="e" d="M682,380.5C695.3,384.7 710.8,384.7 722,393C732.6,400.8 739.7,413 745,425C752.5,441.9 749.4,461.7 752,480C753.9,493.4 753.2,507.4 758,520C762.2,531 767.8,542.3 776.7,550C779,552 781.6,553.6 784,555.4"/><polygon class="a" points="781.2,559.2 794.7,563.3 786.8,551.6"/>
<path class="e" d="M682,380.5C695,384.3 710,384.1 721,392C731.7,399.7 738.7,412 744,424C751.7,441.2 749.6,461.2 751,480C752.4,500 749.7,520.1 752,540C753,548.4 753.5,556.9 756,565C758.8,574.1 762.9,583 768.6,590.6C772.5,595.8 777.6,599.8 782.1,604.5"/><polygon class="a" points="778.8,607.7 791.4,614 785.5,601.2"/>
<path class="e" d="M682,380.5C694.7,384 709.2,383.5 720,391C730.8,398.5 737.8,410.9 743,423C748.7,436.4 748.6,451.5 750,466C751.6,482.9 746.8,500.5 751,517C753,524.9 759,531.8 759.7,540C760.4,548.5 755.8,556.6 754.7,565C753,577.6 752.8,590.3 753.4,603C754,615.8 754.6,628.8 758.5,641C761.9,651.9 766.9,662.4 773.7,671.6C781.2,681.7 791.1,690 801.5,697C810.9,703.3 821.5,707.9 832,712C848.2,718.4 866.4,718.4 882.5,724.8C895.6,730 908.6,736.2 920,744.5C925.6,748.6 931,753.1 936,758C942,763.9 947.3,770.6 952.2,777.5C958.4,786.1 963.2,795.7 968.3,805C974,815.5 980.6,825.7 984.4,837C985.8,841.3 986.8,845.7 988,850C991.1,861.5 994,873.1 996.7,884.8C1000.7,902.1 1003.1,919.7 1007,937C1011.6,957.5 1017.3,977.7 1022.8,998C1028,1017.4 1033.8,1036.6 1039,1056"/><polygon class="a" points="1034.5,1057.2 1042.5,1068.8 1043.5,1054.7"/>
<path class="e" d="M469,416 L593,387"/><polygon class="a" points="594.1,391.6 606,384 592,382.5"/>
<path class="e" d="M469,415C484.7,411.9 500.2,407.8 516,405.8C535.2,403.4 554.7,402.5 574,403.3C597.1,404.3 620.3,407.1 642.5,413.4C659.9,418.4 677,425.1 693,433.7C706.4,440.9 719.8,448.7 731,459C738.5,465.9 746.4,472.9 751.4,481.8C758.6,494.6 753.9,511.7 760,525C764.2,534.1 769.1,543.4 776.7,550C779,552 781.6,553.6 784,555.4"/><polygon class="a" points="781.2,559.2 794.7,563.3 786.8,551.6"/>
<path class="e" d="M475,516.5 L599.6,486.1"/><polygon class="a" points="600.7,490.7 612.5,483 598.5,481.6"/>
<path class="e" d="M456.5,512.5C463.7,505.7 471,499 478,492C485.2,484.8 492.9,478.1 499,470C506.1,460.6 511.2,449.8 516,439C518.1,434.3 520,429.5 521.8,424.6C523.7,419.3 525.7,414 527,408.5C528.1,403.7 528.9,398.9 529.4,394C530.1,387.7 530,381.3 529.9,375C529.7,364.3 527.9,353.6 526.7,343C525.2,330.3 522.9,317.7 521.6,305C520.8,296.7 519.5,288.4 519.7,280C519.8,276.3 520.2,272.7 520.5,269C522.1,251.9 522.6,233.8 530.6,218.6C538.9,202.8 552.9,189.2 568.6,180.6C587.4,170.3 610.6,170.4 632,170.5C657.9,170.6 683.6,177.4 708,186C718.9,189.8 729.5,194.7 740,199.5C752.9,205.4 765.6,211.7 778,218.5C790.9,225.5 804.1,232.3 816,241C820.2,244 824.1,247.3 828.2,250.5"/><polygon class="a" points="825.3,254.2 838.7,258.7 831.1,246.8"/>
<path class="e" d="M682.5,69 L813.7,69"/><polygon class="a" points="813.7,73.7 827,69 813.7,64.3"/>
<path class="e" d="M673.5,272 L811.2,272"/><polygon class="a" points="811.2,276.7 824.5,272 811.2,267.3"/>
<path class="e" d="M887,278.5C897,283 907.6,286.3 917,292C926.2,297.6 934.4,304.8 942.5,312C951.5,319.9 959.7,328.7 967.8,337.5C976.7,347.2 984.4,357.9 993,367.8C1002.4,378.7 1012.8,388.9 1022,400C1036.7,417.7 1049.8,436.8 1062.5,456C1081.2,484.4 1097.9,514.1 1113,544.6C1125.2,569.2 1135.4,594.7 1146,620C1157.9,648.4 1169.5,677 1180,706C1187.3,726.3 1193.8,746.9 1200.7,767.4"/><polygon class="a" points="1196.3,768.9 1205,780 1205.2,765.9"/>
<path class="e" d="M1056,1069.5C1097.3,994.7 1141.4,921.3 1180,845C1184.6,836 1189,826.9 1193.6,817.9"/><polygon class="a" points="1197.7,820 1199.5,806 1189.4,815.8"/>
<path class="e" d="M905,430.6C915.3,437.4 927.6,441.9 936,451C946.7,462.6 951.1,479 956,494C962.6,514.2 964,535.8 966,557C967.6,574 967,591.2 968.3,608.3C969.5,624.5 971.8,640.5 973.2,656.7C974.5,672.8 975.5,688.9 976.4,705C977,715.7 977.5,726.3 978,737C978.7,753.2 978.3,769.4 979.6,785.5C980.7,799 981.6,812.6 984.4,825.8C986.1,834 988.9,841.9 991,850C996.8,872.9 999.8,896.5 1005,919.6C1010.3,942.9 1016.5,965.9 1022.4,989C1028.1,1011.4 1033.8,1033.7 1040,1056"/><polygon class="a" points="1035.5,1057.2 1043.5,1068.8 1044.5,1054.7"/>
<path class="e" d="M903.5,480.8C913.5,486.9 925.4,490.5 933.4,499C943,509.2 945.5,524.2 951,537C954.2,544.6 957.9,552.1 960.3,560C964.2,572.9 964.4,586.6 966,600C968.3,618.8 969.4,637.8 971,656.7C972.4,672.8 973.7,688.9 975,705C975.9,715.7 976.8,726.3 977.5,737C978.5,753.1 978,769.4 979.3,785.5C980.4,799 981.1,812.6 984.2,825.8C986.2,834 989.5,841.9 991.8,850C998.3,872.8 1000.6,896.5 1005.8,919.6C1011.1,942.9 1017.3,965.9 1023.2,989C1028.9,1011.3 1034.8,1033.5 1040.3,1055.9"/><polygon class="a" points="1035.8,1057 1043.5,1068.8 1044.9,1054.8"/>
<path class="e" d="M919.5,538C924,541 928.9,543.4 933,547C937.3,550.8 940.7,555.5 944.2,560C952.1,570 959.5,580.6 965,592C970,602.3 973.8,613.2 976.4,624.4C978.9,635 979.9,645.9 980.4,656.7C980.9,667.5 980,678.2 979.6,689C979.2,699.7 978.3,710.3 978,721C977.6,737.1 977.7,753.3 978.8,769.4C979.9,785.6 981.3,801.9 984.4,817.8C985.2,821.9 986.1,825.9 987,830C989.8,842.6 992.8,855.1 996.7,867.4C1001.5,882.3 1009,896.2 1014,911C1019.7,928 1023.9,945.5 1028,963C1032,980.3 1035.6,997.8 1038.4,1015.4C1040.5,1028.7 1042.9,1042.1 1043.7,1055.5"/><polygon class="a" points="1039,1055.8 1044.5,1068.8 1048.4,1055.2"/>
<path class="e" d="M707.8,816.5 L788,800.4"/><polygon class="a" points="788.9,805 801,797.8 787,795.8"/>
<path class="e" d="M911,786.6 L971.7,786.6"/><polygon class="a" points="971.7,791.3 985,786.6 971.7,781.9"/>
<path class="e" d="M697,892.5 L789.1,914.4"/><polygon class="a" points="788,919 802,917.5 790.1,909.9"/>
<path class="e" d="M704.5,869.7C717.4,868.5 730.3,866.6 743.3,866C760.2,865.3 777.1,866.1 794,867.2C809.4,868.2 824.8,869.2 840,871.8C851.7,873.8 863.4,876.1 874.8,879.6C886.7,883.3 898.4,888 909.6,893.5C921.7,899.5 933.5,906.4 944.4,914.4C953.7,921.2 962.5,928.7 970.5,937C976.8,943.6 982.6,950.7 988,958C994.5,966.8 1000,976.3 1005.4,985.8C1011.8,997.1 1017.4,1008.8 1022.8,1020.6C1028.1,1032.3 1033.6,1043.9 1037.5,1056.1"/><polygon class="a" points="1033,1057.5 1041.5,1068.8 1041.9,1054.7"/>
<path class="e" d="M927,1082.4 L1003.2,1082.4"/><polygon class="a" points="1003.2,1087.1 1016.5,1082.4 1003.2,1077.7"/>
<path class="e" d="M905,1120.5 L1003.6,1094.4"/><polygon class="a" points="1004.8,1098.9 1016.5,1091 1002.4,1089.9"/>
<rect class="n" x="5" y="1425" width="77.5" height="25" fill="#bfbfbf"/><text x="43.8" y="1440.7" textLength="55" lengthAdjust="spacingAndGlyphs">ConvFail</text>
<rect class="n" x="185.5" y="639" width="75" height="25.5" fill="#ffffff"/><text x="223" y="655" textLength="52.5" lengthAdjust="spacingAndGlyphs">map_do</text>
<rect class="n" x="185.5" y="1475.5" width="74" height="25" fill="#ffffff"/><text x="222.5" y="1491.2" textLength="51.5" lengthAdjust="spacingAndGlyphs">PrtZone</text>
<rect class="n" x="131.5" y="1526" width="182.5" height="25.3" fill="#ffffff"/><text x="222.8" y="1541.9" textLength="160" lengthAdjust="spacingAndGlyphs">t_conv::convIonizNewVal</text>
<rect class="n" x="134.5" y="1576.8" width="176" height="25.4" fill="#ffffff"/><text x="222.5" y="1592.7" textLength="153.5" lengthAdjust="spacingAndGlyphs">t_conv::convIonizOldVal</text>
<rect class="n" x="148.5" y="1627" width="148" height="25.5" fill="#ffffff"/><text x="222.5" y="1643" textLength="125.5" lengthAdjust="spacingAndGlyphs">t_conv::lgConvIoniz</text>
<rect class="r" x="378.5" y="183.5" width="118.5" height="25" fill="#ffffff"/><text x="437.8" y="199.2" textLength="96" lengthAdjust="spacingAndGlyphs">ConvEdenIoniz</text>
<rect class="n" x="363.5" y="310" width="148" height="25" fill="#ffffff"/><text x="437.5" y="325.7" textLength="125.5" lengthAdjust="spacingAndGlyphs">ion_trim_invalidate</text>
<rect class="n" x="374" y="360.5" width="126.5" height="25.5" fill="#ffffff"/><text x="437.2" y="376.4" textLength="104" lengthAdjust="spacingAndGlyphs">ion_trim_untrim</text>
<rect class="n" x="405.5" y="411.5" width="63.5" height="25" fill="#ffffff"/><text x="437.2" y="427.2" textLength="41" lengthAdjust="spacingAndGlyphs">coolpr</text>
<rect class="r" x="399.5" y="512.5" width="75.5" height="25.5" fill="#ffffff"/><text x="437.2" y="528.5" textLength="53" lengthAdjust="spacingAndGlyphs">PrintE93</text>
<rect class="r" x="378.5" y="791" width="118" height="25.5" fill="#ffffff"/><text x="437.5" y="807" textLength="95.5" lengthAdjust="spacingAndGlyphs">PresTotCurrent</text>
<rect class="r" x="390" y="1171" width="94.5" height="25" fill="#ffffff"/><text x="437.2" y="1186.7" textLength="72" lengthAdjust="spacingAndGlyphs">PrtLinePres</text>
<rect class="n" x="366" y="1323" width="142.5" height="25.5" fill="#ffffff"/><text x="437.2" y="1339" textLength="120" lengthAdjust="spacingAndGlyphs">t_thermal::heating</text>
<rect class="r" x="385" y="1576.5" width="104" height="25" fill="#ffffff"/><text x="437" y="1592.2" textLength="81.5" lengthAdjust="spacingAndGlyphs">iso_prt_pops</text>
<rect class="n" x="390.5" y="1627" width="93.5" height="25.5" fill="#ffffff"/><text x="437.2" y="1643" textLength="71" lengthAdjust="spacingAndGlyphs">findnuclide</text>
<rect class="r" x="401.5" y="1678" width="71" height="25" fill="#ffffff"/><text x="437" y="1693.7" textLength="48.5" lengthAdjust="spacingAndGlyphs">column</text>
<rect class="r" x="404.5" y="1728.5" width="65.5" height="25.5" fill="#ffffff"/><text x="437.2" y="1744.5" textLength="43" lengthAdjust="spacingAndGlyphs">powpq</text>
<rect class="n" x="568.5" y="5.5" width="151" height="25.5" fill="#ffffff"/><text x="644" y="21.4" textLength="128.5" lengthAdjust="spacingAndGlyphs">t_conv::chConvIoniz</text>
<rect class="n" x="605" y="56.5" width="77.5" height="25" fill="#ffffff"/><text x="643.8" y="72.2" textLength="55" lengthAdjust="spacingAndGlyphs">safe_div</text>
<rect class="n" x="620" y="209" width="48" height="24.5" fill="#ffffff"/><text x="644" y="224.4" textLength="25.5" lengthAdjust="spacingAndGlyphs">TorF</text>
<rect class="n" x="614.5" y="259.5" width="59" height="25" fill="#ffffff"/><text x="644" y="275.2" textLength="36.5" lengthAdjust="spacingAndGlyphs">fudge</text>
<rect class="n" x="606" y="360.5" width="76" height="25.5" fill="#ffffff"/><text x="644" y="376.4" textLength="53.5" lengthAdjust="spacingAndGlyphs">ShowMe</text>
<rect class="r" x="612.5" y="462" width="62.5" height="25" fill="#ffffff"/><text x="643.8" y="477.7" textLength="40" lengthAdjust="spacingAndGlyphs">exp10</text>
<rect class="r" x="603" y="614.5" width="82" height="24.5" fill="#ffffff"/><text x="644" y="630" textLength="59.5" lengthAdjust="spacingAndGlyphs">DynaFlux</text>
<rect class="n" x="592.5" y="715.5" width="103" height="25" fill="#ffffff"/><text x="644" y="731.2" textLength="80.5" lengthAdjust="spacingAndGlyphs">t_mesh::anu</text>
<rect class="r" x="571" y="766" width="145.5" height="25" fill="#ffffff"/><text x="643.8" y="781.7" textLength="123" lengthAdjust="spacingAndGlyphs">t_ADfA::getEthresh</text>
<rect class="r" x="560.5" y="816.5" width="167" height="25" fill="#ffffff"/><text x="644" y="832.2" textLength="144.5" lengthAdjust="spacingAndGlyphs">PressureRadiationLine</text>
<rect class="r" x="583.5" y="867.5" width="121" height="25" fill="#ffffff"/><text x="644" y="883.2" textLength="98.5" lengthAdjust="spacingAndGlyphs">RT_line_driving</text>
<rect class="r" x="576.5" y="1222" width="134.5" height="25.5" fill="#ffffff"/><text x="643.8" y="1238" textLength="112" lengthAdjust="spacingAndGlyphs">GetDopplerWidth</text>
<rect class="r" x="590.5" y="1323" width="106.5" height="25.5" fill="#ffffff"/><text x="643.8" y="1339" textLength="84" lengthAdjust="spacingAndGlyphs">TempChange</text>
<rect class="n" x="618" y="1374" width="52.5" height="25" fill="#ffffff"/><text x="644.2" y="1389.7" textLength="30" lengthAdjust="spacingAndGlyphs">SDIV</text>
<rect class="r" x="571" y="1728.5" width="146" height="25.5" fill="#ffffff"/><text x="644" y="1744.5" textLength="123.5" lengthAdjust="spacingAndGlyphs">t_iso_sp::QN2Index</text>
<rect class="n" x="827" y="56.5" width="57.5" height="25.5" fill="#ffffff"/><text x="855.8" y="72.5" textLength="35" lengthAdjust="spacingAndGlyphs">sign3</text>
<rect class="n" x="824.5" y="259.5" width="62.5" height="25" fill="#ffffff"/><text x="855.8" y="275.2" textLength="40" lengthAdjust="spacingAndGlyphs">fprintf</text>
<rect class="n" x="790.5" y="360.5" width="130.5" height="25.5" fill="#ffffff"/><text x="855.8" y="376.4" textLength="108" lengthAdjust="spacingAndGlyphs">t_ran::print_seed</text>
<rect class="n" x="807.5" y="411.5" width="97" height="25" fill="#ffffff"/><text x="856" y="427.2" textLength="74.5" lengthAdjust="spacingAndGlyphs">cdWarnings</text>
<rect class="n" x="808.5" y="462" width="95" height="25" fill="#ffffff"/><text x="856" y="477.7" textLength="72.5" lengthAdjust="spacingAndGlyphs">cdCautions</text>
<rect class="n" x="785" y="512.5" width="141.5" height="25.5" fill="#ffffff"/><text x="855.8" y="528.5" textLength="119" lengthAdjust="spacingAndGlyphs">cdPrintCommands</text>
<rect class="r" x="792.5" y="563.5" width="127" height="25" fill="#ffffff"/><text x="856" y="579.2" textLength="104.5" lengthAdjust="spacingAndGlyphs">findspecieslocal</text>
<rect class="n" x="776.5" y="614.5" width="159" height="40" fill="#ffffff"/><text x="856" y="630.5" textLength="137" lengthAdjust="spacingAndGlyphs">Singleton&lt; t_version</text><text x="858" y="644.7" textLength="43.5" lengthAdjust="spacingAndGlyphs">&gt;::Inst</text>
<rect class="r" x="800.5" y="774" width="110.5" height="25.5" fill="#ffffff"/><text x="855.8" y="790" textLength="88" lengthAdjust="spacingAndGlyphs">RT_LineWidth</text>
<rect class="n" x="784.5" y="917.5" width="142.5" height="25.5" fill="#ffffff"/><text x="855.8" y="933.5" textLength="120" lengthAdjust="spacingAndGlyphs">TransitionList::size</text>
<rect class="r" x="784.5" y="1069.5" width="142.5" height="25.5" fill="#ffffff"/><text x="855.8" y="1085.5" textLength="120" lengthAdjust="spacingAndGlyphs">lgElemsConserved</text>
<rect class="r" x="799.5" y="1120.5" width="112.5" height="25.5" fill="#ffffff"/><text x="855.8" y="1136.5" textLength="90" lengthAdjust="spacingAndGlyphs">SumDensities</text>
<rect class="n" x="799.5" y="1222" width="112.5" height="25.5" fill="#ffffff"/><text x="855.8" y="1238" textLength="90" lengthAdjust="spacingAndGlyphs">Wind::lgStatic</text>
<rect class="r" x="802.5" y="1753.5" width="106.5" height="25.5" fill="#ffffff"/><text x="855.8" y="1769.5" textLength="84" lengthAdjust="spacingAndGlyphs">DynaPrtZone</text>
<rect class="n" x="985" y="774" width="126.5" height="25.5" fill="#ffffff"/><text x="1048.2" y="790" textLength="104" lengthAdjust="spacingAndGlyphs">Wind::lgBallistic</text>
<rect class="n" x="1016.5" y="1069.5" width="63" height="25.5" fill="#ffffff"/><text x="1048" y="1085.5" textLength="40.5" lengthAdjust="spacingAndGlyphs">fprintf</text>
<rect class="n" x="1161" y="780.5" width="97" height="25" fill="#ffffff"/><text x="1209.5" y="796.2" textLength="74.5" lengthAdjust="spacingAndGlyphs">Output::fptr</text>
</svg></body></html>
